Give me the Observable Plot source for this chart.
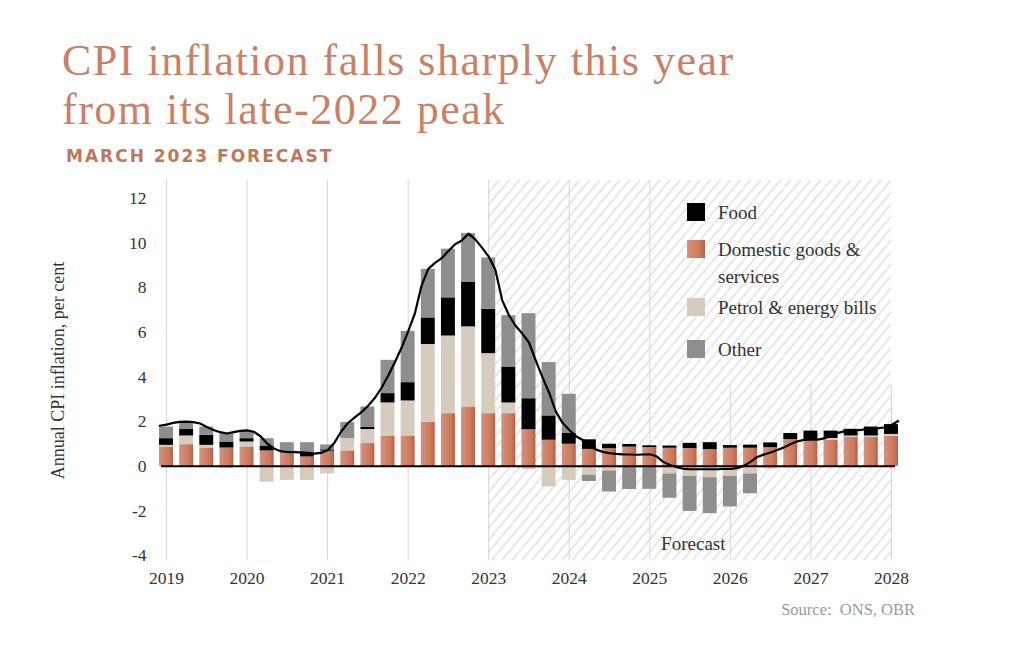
<!DOCTYPE html>
<html>
<head>
<meta charset="utf-8">
<script src="https://cdn.jsdelivr.net/npm/d3@7"></script>
<script src="https://cdn.jsdelivr.net/npm/@observablehq/plot@0.6"></script>
<style>
  body { margin: 0; background: #fff; width: 1024px; height: 645px; overflow: hidden; font-family: "Liberation Serif", serif; }
  #head { position: relative; height: 170px; }
  #title { position: absolute; left: 62px; top: 35.6px; font-size: 44px; letter-spacing: 1.5px; color: #c98166; white-space: nowrap; }
  #title div { height: 49px; line-height: 49px; }
  #subtitle { position: absolute; left: 66px; top: 148px; font-family: "DejaVu Sans", sans-serif; font-weight: bold; font-size: 17px; line-height: 16px; letter-spacing: 2px; color: #c0785a; white-space: nowrap; }
  #chart { position: relative; height: 430px; }
  #chart svg { display: block; }
  .item { position: absolute; left: 687px; display: flex; align-items: flex-start; font-size: 19px; line-height: 27px; color: #333; }
  .sw { width: 18px; height: 18px; margin-top: 4.5px; margin-right: 13px; flex: none; }
  .lbl { white-space: nowrap; }
  .lbl.wrap { white-space: normal; width: 160px; }
  #caption { text-align: right; padding-right: 109px; font-size: 16.5px; line-height: 20px; color: #9a9a9a; white-space: pre; }
</style>
</head>
<body>
<div id="head">
  <div id="title"><div>CPI inflation falls sharply this year</div><div>from its late-2022 peak</div></div>
  <div id="subtitle">MARCH 2023 FORECAST</div>
</div>
<div id="chart"></div>
<div id="caption">Source:  ONS, OBR</div>
<script>
// ---- Data ----
// Quarterly contributions, 2019 Q1 ... 2028 Q1 (37 quarters)
const firstYear = 2019;
const domestic = [0.87,0.97,0.82,0.82,0.87,0.69,0.57,0.42,0.68,0.69,1.02,1.36,1.36,1.97,2.36,2.66,2.36,2.36,1.64,1.17,0.99,0.76,0.79,0.86,0.84,0.81,0.80,0.75,0.81,0.81,0.84,1.20,1.14,1.17,1.29,1.29,1.34];
const petrol   = [0.07,0.39,0.12,-0.10,0.22,-0.71,-0.63,-0.63,-0.34,0.55,0.63,1.48,1.57,3.49,3.48,3.59,2.69,0.48,-0.15,-0.93,-0.63,-0.40,-0.21,-0.05,-0.03,-0.34,-0.45,-0.51,-0.45,-0.34,-0.12,-0.08,0.06,0.08,0.07,0.07,0.09];
const food     = [0.30,0.29,0.45,0.27,0.15,0.22,0,0.18,0.06,0,0.09,0.42,0.82,1.19,1.71,1.99,1.99,1.61,1.39,1.09,0.48,0.43,0.20,0.12,0.08,0.10,0.23,0.31,0.12,0.14,0.21,0.27,0.38,0.33,0.30,0.40,0.44];
const other    = [0.52,0.29,0.37,0.40,0.34,0.33,0.49,0.46,0.22,0.72,0.92,1.49,2.30,2.18,2.18,2.19,2.30,2.30,3.81,2.39,1.76,-0.28,-0.94,-0.99,-1.00,-1.09,-1.57,-1.61,-1.37,-0.89,0,0,0,0,0,0,0];
// Monthly CPI inflation, Jan 2019 ... Mar 2028
const cpiMonthly = [
  1.82,1.87,1.95,1.99,2.0,1.98,1.92,1.76,1.63,1.53,1.47,1.53,
  1.59,1.61,1.55,1.35,1.02,0.8,0.68,0.64,0.64,0.63,0.6,0.57,
  0.6,0.72,1.05,1.55,1.93,2.18,2.42,2.7,3.05,3.5,4.05,4.65,
  5.3,6.05,6.85,8.1,8.85,9.12,9.33,9.65,9.95,10.12,10.43,10.17,
  9.8,9.4,8.8,7.45,6.78,6.3,5.95,5.55,4.75,4.0,3.3,2.45,
  1.95,1.63,1.35,1.18,0.93,0.75,0.65,0.59,0.56,0.54,0.53,0.52,
  0.53,0.54,0.45,0.2,0.06,-0.04,-0.11,-0.13,-0.13,-0.13,-0.13,-0.13,
  -0.12,-0.12,-0.08,0.02,0.2,0.42,0.53,0.62,0.73,0.85,1.0,1.12,
  1.19,1.2,1.2,1.25,1.38,1.5,1.57,1.6,1.62,1.65,1.67,1.7,
  1.75,1.85,2.03];
const yearTicks = [2019,2020,2021,2022,2023,2024,2025,2026,2027,2028];
const yTicks = [-4,-2,0,2,4,6,8,10,12];
const forecastStart = 2023, forecastEnd = 2028;
const legendItems = ["Food", "Domestic goods & services", "Petrol & energy bills", "Other"];

// ---- Styles / layout ----
const colors = { "Domestic goods & services": "url(#domGrad)", "Petrol & energy bills": "#d5ccbd", "Food": "#000000", "Other": "#8e8e8e" };
const swatch = { "Domestic goods & services": "linear-gradient(to right,#d6907a,#cb7a5c 70%,#b0624a)", "Petrol & energy bills": "#d5ccbd", "Food": "#000", "Other": "#8e8e8e" };
const legendTops = [28.5, 65.5, 123.5, 165.5];
const yDomain = [-4.22, 12.81];
const legendBottom = 3.63;   // grid lines under the legend start here

// ---- Build stacked segments ----
const stackOrder = [["Domestic goods & services", domestic], ["Petrol & energy bills", petrol], ["Food", food], ["Other", other]];
const segments = [];
for (let i = 0; i < domestic.length; i++) {
  let pos = 0, neg = 0;
  const t = firstYear + i / 4;
  for (const [name, arr] of stackOrder) {
    const v = arr[i];
    if (!v) continue;
    if (v > 0) { segments.push({series: name, t, y1: pos, y2: pos + v}); pos += v; }
    else { segments.push({series: name, t, y1: neg, y2: neg + v}); neg += v; }
  }
}
const lineData = cpiMonthly.map((v, m) => ({t: firstYear + (m - 1) / 12, v}));

const grid = yearTicks.map(y => ({x: y, top: y >= 2026 ? legendBottom : yDomain[1]}));

const barMarks = stackOrder.map(([name]) => Plot.rect(segments.filter(d => d.series === name), {
  x1: d => d.t - 0.125, x2: d => d.t + 0.125, y1: "y1", y2: "y2",
  fill: colors[name], insetLeft: 3.1, insetRight: 3.1
}));

const chart = Plot.plot({
  width: 1024, height: 430,
  marginLeft: 161, marginRight: 129, marginTop: 10, marginBottom: 40,
  style: { fontFamily: "Liberation Serif", fontSize: "17.5px", color: "#333", background: "transparent", overflow: "visible" },
  x: { domain: [2018.938, 2028.05], ticks: yearTicks, tickFormat: d => String(d), tickSize: 0, tickPadding: 11, label: null },
  y: { domain: yDomain, ticks: yTicks, tickFormat: d => String(d), tickSize: 0, tickPadding: 15, label: null },
  marks: [
    Plot.rect([{x1: forecastStart, x2: forecastEnd}], { x1: "x1", x2: "x2", y1: yDomain[0], y2: yDomain[1], fill: "url(#hatch)" }),
    Plot.ruleX(grid, { x: "x", y1: yDomain[0], y2: "top", stroke: "#d6d6d6", strokeWidth: 1 }),
    ...barMarks,
    Plot.ruleY([0], { stroke: "#000", strokeWidth: 2 }),
    Plot.line(lineData, { x: "t", y: "v", stroke: "#000", strokeWidth: 2.2, strokeLinejoin: "round" }),
    Plot.text(["Forecast"], { x: 2025.54, y: -3.46, text: d => d, fontSize: 19, fill: "#333", textAnchor: "middle" }),
    Plot.text(["Annual CPI inflation, per cent"], { frameAnchor: "left", dx: -103, rotate: -90, textAnchor: "middle", lineAnchor: "middle", text: d => d, fontSize: 18, fill: "#333" })
  ]
});

// defs for hatch pattern & gradient
const ns = "http://www.w3.org/2000/svg";
const defs = document.createElementNS(ns, "defs");
defs.innerHTML = `
  <pattern id="hatch" patternUnits="userSpaceOnUse" width="7.7" height="20" patternTransform="rotate(40)">
    <line x1="3.85" y1="0" x2="3.85" y2="20" stroke="#d0d0d0" stroke-width="1"/>
  </pattern>
  <linearGradient id="domGrad" x1="0" x2="1" y1="0" y2="0">
    <stop offset="0" stop-color="#d6907a"/>
    <stop offset="0.7" stop-color="#cb7a5c"/>
    <stop offset="1" stop-color="#b0624a"/>
  </linearGradient>`;
chart.insertBefore(defs, chart.firstChild);

const host = document.getElementById("chart");
host.appendChild(chart);

legendItems.forEach((name, k) => {
  const item = document.createElement("div");
  item.className = "item";
  item.style.top = legendTops[k] + "px";
  const sw = document.createElement("div");
  sw.className = "sw";
  sw.style.background = swatch[name];
  const lbl = document.createElement("div");
  lbl.className = "lbl" + (name.startsWith("Domestic") ? " wrap" : "");
  lbl.textContent = name;
  item.appendChild(sw); item.appendChild(lbl);
  host.appendChild(item);
});
</script>
</body>
</html>
